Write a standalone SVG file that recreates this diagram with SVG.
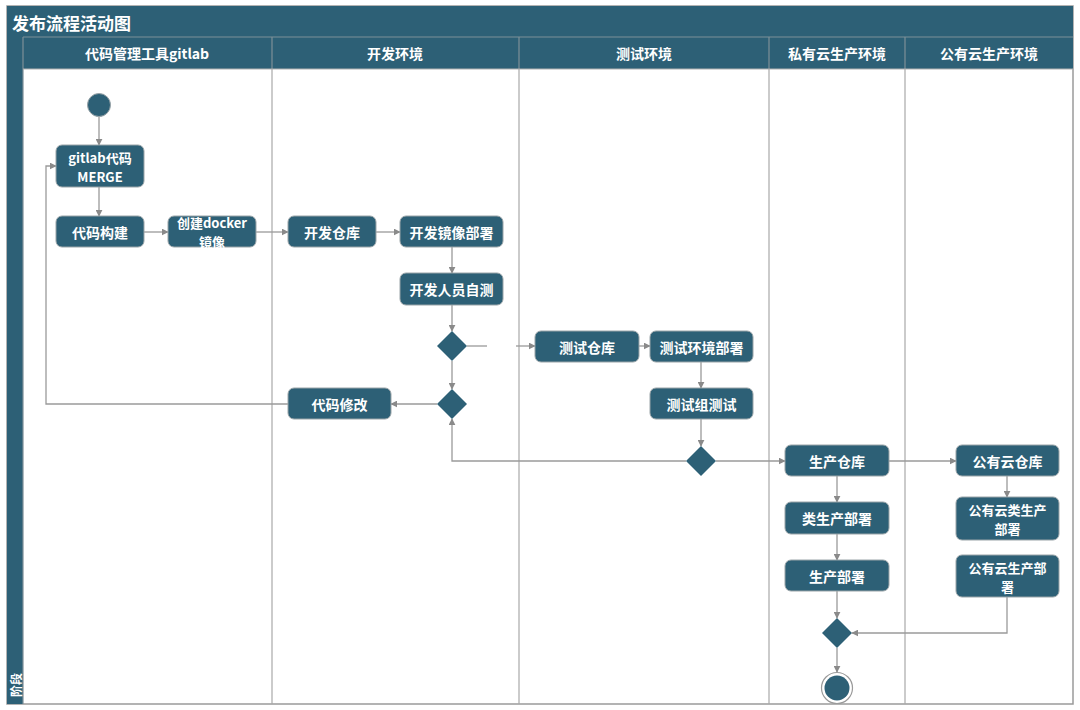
<svg xmlns="http://www.w3.org/2000/svg" width="1080" height="710" viewBox="0 0 1080 710">
<defs>
<style>
.dark{fill:#2d6076}
.node{fill:#2d6076;stroke:#9aa4a8;stroke-width:1}
.t{fill:#ffffff;font-family:"Noto Sans CJK SC","Noto Sans",sans-serif;font-weight:bold;font-size:14px;text-anchor:middle;dominant-baseline:central}
.t2{fill:#ffffff;font-family:"Noto Sans CJK SC","Noto Sans",sans-serif;font-weight:bold;font-size:13px;text-anchor:middle;dominant-baseline:central}
.h{fill:#ffffff;font-family:"Noto Sans CJK SC","Noto Sans",sans-serif;font-weight:bold;font-size:14px;text-anchor:middle;dominant-baseline:central}
.lane{stroke:#a8a8a8;stroke-width:1.2;fill:none}
.hsep{stroke:#7d8f98;stroke-width:1.2}
.c{stroke:#9a9a9a;stroke-width:1.3;fill:none}
.ca{stroke:#9a9a9a;stroke-width:1.3;fill:none;marker-end:url(#arr)}
</style>
<marker id="arr" viewBox="0 0 10 10" refX="9" refY="5" markerWidth="7" markerHeight="7" markerUnits="userSpaceOnUse" orient="auto">
<path d="M0,0 L10,5 L0,10 z" fill="#8a8a8a"/>
</marker>
</defs>
<rect x="0" y="0" width="1080" height="710" fill="#ffffff"/>
<g id="frame">
<rect x="7" y="6" width="1066" height="698" fill="#ffffff" stroke="#9a9a9a" stroke-width="1.5"/>
<rect x="7" y="6" width="1066" height="31" class="dark"/>
<text x="12" y="22" fill="#ffffff" font-family="Noto Sans CJK SC, Noto Sans, sans-serif" font-weight="bold" font-size="17" dominant-baseline="central">发布流程活动图</text>
<rect x="7" y="37" width="1066" height="32" class="dark"/>
<rect x="7" y="37" width="16" height="667" class="dark"/>
<line x1="23" y1="37" x2="1073" y2="37" class="hsep"/>
<line x1="23" y1="37" x2="23" y2="704" class="hsep"/>
<line x1="272" y1="37" x2="272" y2="69" class="hsep"/>
<line x1="519" y1="37" x2="519" y2="69" class="hsep"/>
<line x1="769" y1="37" x2="769" y2="69" class="hsep"/>
<line x1="905" y1="37" x2="905" y2="69" class="hsep"/>
<line x1="23" y1="69" x2="1073" y2="69" stroke="#b0b0b0" stroke-width="1"/>
<line x1="272" y1="69" x2="272" y2="704" class="lane"/>
<line x1="519" y1="69" x2="519" y2="704" class="lane"/>
<line x1="769" y1="69" x2="769" y2="704" class="lane"/>
<line x1="905" y1="69" x2="905" y2="704" class="lane"/>
<text class="h" x="147" y="53">代码管理工具gitlab</text>
<text class="h" x="395" y="53">开发环境</text>
<text class="h" x="644" y="53">测试环境</text>
<text class="h" x="837" y="53">私有云生产环境</text>
<text class="h" x="989" y="53">公有云生产环境</text>
<text transform="translate(15,685) rotate(-90)" fill="#ffffff" font-family="Noto Sans CJK SC, Noto Sans, sans-serif" font-weight="bold" font-size="12" text-anchor="middle" dominant-baseline="central">阶段</text>
</g>
<g id="connectors">
<line class="ca" x1="99" y1="117" x2="99" y2="145"/>
<line class="ca" x1="99" y1="187" x2="99" y2="216"/>
<line class="ca" x1="144" y1="232" x2="168" y2="232"/>
<line class="ca" x1="256" y1="232" x2="288" y2="232"/>
<line class="ca" x1="376" y1="232" x2="400" y2="232"/>
<line class="ca" x1="452" y1="247" x2="452" y2="273"/>
<line class="ca" x1="452" y1="305" x2="452" y2="331"/>
<line class="c" x1="467" y1="346" x2="487" y2="346"/>
<line class="ca" x1="516" y1="346" x2="535" y2="346"/>
<line class="ca" x1="452" y1="361" x2="452" y2="389"/>
<line class="ca" x1="437" y1="404" x2="391" y2="404"/>
<polyline class="ca" points="288,404 46,404 46,166 56,166"/>
<line class="ca" x1="639" y1="346" x2="650" y2="346"/>
<line class="ca" x1="701" y1="362" x2="701" y2="388"/>
<line class="ca" x1="701" y1="419" x2="701" y2="446"/>
<polyline class="ca" points="686,461 452,461 452,419"/>
<line class="ca" x1="716" y1="461" x2="785" y2="461"/>
<line class="ca" x1="889" y1="461" x2="956" y2="461"/>
<line class="ca" x1="1007" y1="476" x2="1007" y2="497"/>
<line class="ca" x1="837" y1="476" x2="837" y2="502"/>
<line class="ca" x1="837" y1="534" x2="837" y2="560"/>
<line class="ca" x1="837" y1="591" x2="837" y2="618"/>
<polyline class="ca" points="1007,597 1007,633 852,633"/>
<line class="ca" x1="837" y1="648" x2="837" y2="672"/>
</g>
<g id="start"><circle cx="99" cy="105" r="11.5" class="dark" stroke="#9aa4a8" stroke-width="1"/></g>
<g id="merge"><rect class="node" x="56" y="145" width="88" height="42" rx="6"/><text class="t2"><tspan x="100" y="156.5">gitlab代码</tspan><tspan x="100" y="175.5">MERGE</tspan></text></g>
<g id="build"><rect class="node" x="56" y="216" width="88" height="31" rx="6"/><text class="t" x="100" y="231.5">代码构建</text></g>
<g id="docker"><rect class="node" x="168" y="216" width="88" height="31" rx="6"/><text class="t2"><tspan x="212" y="222">创建docker</tspan><tspan x="212" y="241">镜像</tspan></text></g>
<g id="devrepo"><rect class="node" x="288" y="216" width="88" height="31" rx="6"/><text class="t" x="332" y="231.5">开发仓库</text></g>
<g id="devdeploy"><rect class="node" x="400" y="216" width="103" height="31" rx="6"/><text class="t" x="451.5" y="231.5">开发镜像部署</text></g>
<g id="devtest"><rect class="node" x="400" y="273" width="103" height="32" rx="6"/><text class="t" x="451.5" y="289">开发人员自测</text></g>
<g id="dec1"><polygon class="dark" points="452,331 467,346 452,361 437,346"/></g>
<g id="dec2"><polygon class="dark" points="452,389 467,404 452,419 437,404"/></g>
<g id="codefix"><rect class="node" x="288" y="388" width="103" height="31" rx="6"/><text class="t" x="339.5" y="403.5">代码修改</text></g>
<g id="testrepo"><rect class="node" x="535" y="331" width="104" height="31" rx="6"/><text class="t" x="587" y="346.5">测试仓库</text></g>
<g id="testdeploy"><rect class="node" x="650" y="331" width="103" height="31" rx="6"/><text class="t" x="701.5" y="346.5">测试环境部署</text></g>
<g id="grouptest"><rect class="node" x="650" y="388" width="103" height="31" rx="6"/><text class="t" x="701.5" y="403.5">测试组测试</text></g>
<g id="dec3"><polygon class="dark" points="701,446 716,461 701,476 686,461"/></g>
<g id="prodrepo"><rect class="node" x="785" y="445" width="104" height="31" rx="6"/><text class="t" x="837" y="460.5">生产仓库</text></g>
<g id="pubrepo"><rect class="node" x="956" y="445" width="103" height="31" rx="6"/><text class="t" x="1007.5" y="460.5">公有云仓库</text></g>
<g id="preprod"><rect class="node" x="785" y="502" width="104" height="32" rx="6"/><text class="t" x="837" y="518">类生产部署</text></g>
<g id="pubpreprod"><rect class="node" x="956" y="497" width="103" height="43" rx="6"/><text class="t2"><tspan x="1007.5" y="509">公有云类生产</tspan><tspan x="1007.5" y="528">部署</tspan></text></g>
<g id="proddeploy"><rect class="node" x="785" y="560" width="104" height="31" rx="6"/><text class="t" x="837" y="575.5">生产部署</text></g>
<g id="pubprod"><rect class="node" x="956" y="555" width="103" height="42" rx="6"/><text class="t2"><tspan x="1007.5" y="566.5">公有云生产部</tspan><tspan x="1007.5" y="585.5">署</tspan></text></g>
<g id="dec4"><polygon class="dark" points="837,618 852,633 837,648 822,633"/></g>
<g id="end"><circle cx="837" cy="688" r="15.5" fill="#ffffff" stroke="#9a9a9a" stroke-width="1.2"/><circle cx="837" cy="688" r="12.5" class="dark"/></g>
</svg>
